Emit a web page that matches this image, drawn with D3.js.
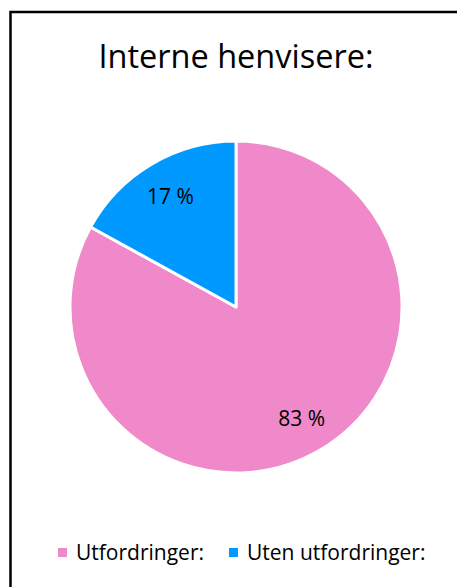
<!DOCTYPE html>
<html>
<head>
<meta charset="utf-8">
<script src="https://cdn.jsdelivr.net/npm/d3@7"></script>
<style>
  html, body { margin: 0; padding: 0; background: #fff; }
  svg { display: block; }
  text { font-family: "Open Sans", Lato, sans-serif; fill: #000; }
</style>
</head>
<body>
<svg id="chart" width="457" height="587"></svg>
<script>
// Andel interne henvisere med og uten utfordringer
const categories = ["Utfordringer:", "Uten utfordringer:"];
const values = [83, 17];
const labels = ["83 %", "17 %"];
const colors = ["#EF89C9", "#0099FF"];
const title = "Interne henvisere:";

const svg = d3.select("#chart");
const W = 457, H = 587;

// Chart frame (continues past the right and bottom edges)
svg.append("rect")
  .attr("x", 10.5).attr("y", 12)
  .attr("width", W + 20).attr("height", H + 20)
  .attr("fill", "#fff")
  .attr("stroke", "#000")
  .attr("stroke-width", 2.5);

// Title
svg.append("text")
  .attr("x", 236).attr("y", 68)
  .attr("text-anchor", "middle")
  .style("font-size", "32.5px")
  .text(title);

// Pie
const cx = 236, cy = 307, r = 166;
const pie = d3.pie().sort(null).value(d => d.value);
const arcs = pie(categories.map((c, i) => ({ cat: c, value: values[i], label: labels[i], color: colors[i] })));
const arc = d3.arc().innerRadius(0).outerRadius(r);
const labelArc = d3.arc().innerRadius(129).outerRadius(129);

const g = svg.append("g").attr("transform", `translate(${cx},${cy})`);
g.selectAll("path.slice")
  .data(arcs)
  .join("path")
  .attr("class", "slice")
  .attr("d", arc)
  .attr("fill", d => d.data.color)
  .attr("stroke", "#fff")
  .attr("stroke-width", 3)
  .attr("stroke-linejoin", "round");

g.selectAll("text.lbl")
  .data(arcs)
  .join("text")
  .attr("class", "lbl")
  .attr("transform", d => `translate(${labelArc.centroid(d)})`)
  .attr("text-anchor", "middle")
  .attr("dy", "0.36em")
  .style("font-size", "21px")
  .text(d => d.data.label);

// Legend
const legendX = [58, 229];
const legend = svg.append("g");
categories.forEach((c, i) => {
  legend.append("rect")
    .attr("x", legendX[i]).attr("y", 548)
    .attr("width", 9).attr("height", 9)
    .attr("fill", colors[i]);
  legend.append("text")
    .attr("x", legendX[i] + 18).attr("y", 560)
    .style("font-size", "21px")
    .text(c);
});
</script>
</body>
</html>
